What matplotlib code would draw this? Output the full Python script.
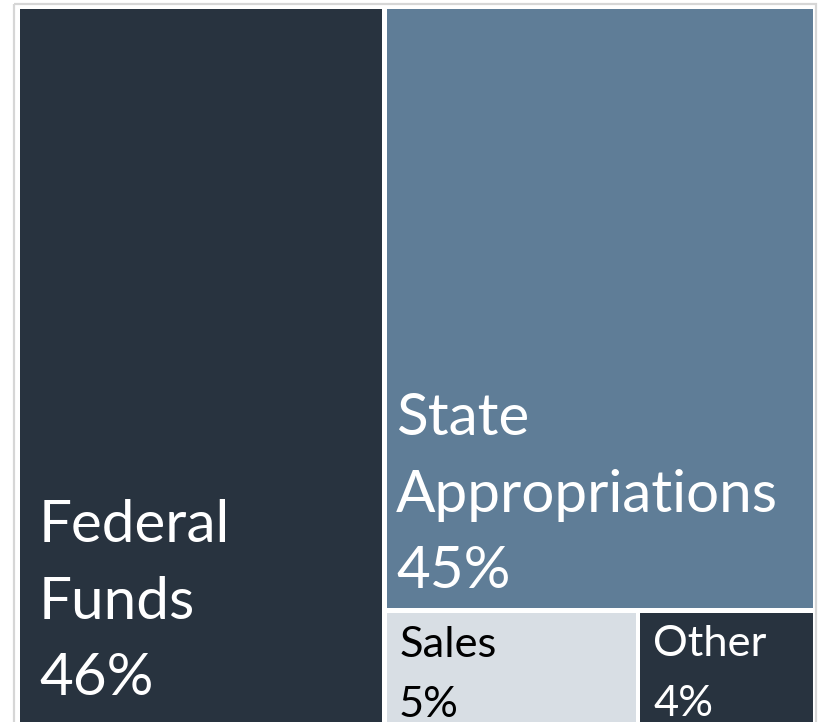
import matplotlib
matplotlib.use("Agg")
import matplotlib.pyplot as plt
from matplotlib.patches import Rectangle

# ---- data ----
categories = ["Federal Funds", "State Appropriations", "Sales", "Other"]
values = [46.0, 45.0, 5.3, 3.7]
label_lines = [["Federal", "Funds", "46%"],
               ["State", "Appropriations", "45%"],
               ["Sales", "5%"],
               ["Other", "4%"]]

# ---- style ----
colors = ["#28333f", "#5f7d97", "#d8dee4", "#28333f"]
text_colors = ["white", "white", "black", "white"]
font_sizes = [42.0, 42.0, 31.3, 31.3]
leads = [76.3, 76.6, 60.0, 60.0]           # px between baselines
left_pads = [19.5, 9.5, 12.5, 13.0]        # px
bottom_pads = [33.7, 19.7, 12.0, 12.5]     # px from rect bottom to last baseline
GAP = 4.5
FONT = ["Lato", "DejaVu Sans"]

W, H = 821, 722
DOM_X, DOM_Y, DOM_W, DOM_H = 17.25, 6.75, 798.0, 724.2


def worst(row, side):
    s = sum(row)
    return max(max(side * side * r / (s * s), (s * s) / (side * side * r)) for r in row)


def squarify(vals, x, y, w, h):
    tot = sum(vals)
    areas = [v / tot * w * h for v in vals]
    rects = []
    while areas:
        side = min(w, h)
        row = [areas[0]]
        i = 1
        while i < len(areas) and worst(row + [areas[i]], side) <= worst(row, side):
            row.append(areas[i])
            i += 1
        areas = areas[i:]
        s = sum(row)
        if w >= h:
            cw = s / h
            yy = y
            for a in row:
                rh = a / cw
                rects.append((x, yy, cw, rh))
                yy += rh
            x += cw
            w -= cw
        else:
            rh = s / w
            xx = x
            for a in row:
                rw = a / rh
                rects.append((xx, y, rw, rh))
                xx += rw
            y += rh
            h -= rh
    return rects


fig = plt.figure(figsize=(W / 100, H / 100), dpi=100)
fig.patch.set_facecolor("white")
ax = fig.add_axes([0, 0, 1, 1])
ax.set_xlim(0, W)
ax.set_ylim(H, 0)
ax.axis("off")

# outer light frame
ax.add_patch(Rectangle((14, 3.5), 802, 740, facecolor="none",
                       edgecolor="#d6d6d6", linewidth=1.6, zorder=0))

rects = squarify(values, DOM_X, DOM_Y, DOM_W, DOM_H)
for i, (x, y, w, h) in enumerate(rects):
    x0, y0 = x + GAP / 2, y + GAP / 2
    w0, h0 = w - GAP, h - GAP
    ax.add_patch(Rectangle((x0, y0), w0, h0, facecolor=colors[i],
                           edgecolor="none", zorder=1))
    lines = label_lines[i]
    base = y0 + h0 - bottom_pads[i]
    n = len(lines)
    for k, line in enumerate(lines):
        by = base - (n - 1 - k) * leads[i]
        ax.text(x0 + left_pads[i], by, line, color=text_colors[i],
                fontsize=font_sizes[i], family=FONT, ha="left", va="baseline",
                zorder=2, clip_on=False)

fig.savefig("out.png", dpi=100, facecolor="white")
